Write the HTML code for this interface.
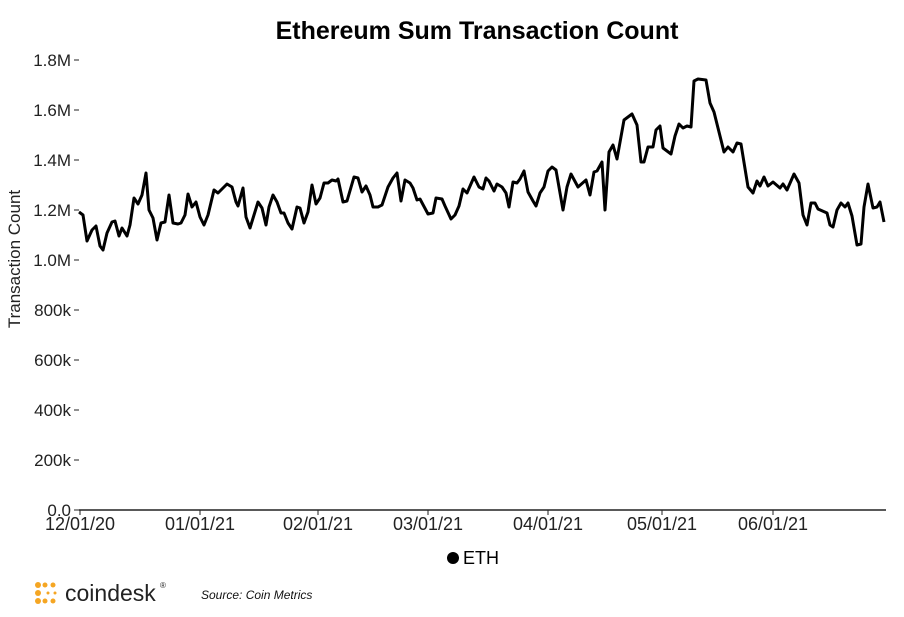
<!DOCTYPE html>
<html><head><meta charset="utf-8"><style>
html,body{margin:0;padding:0;background:#fff;width:904px;height:617px;overflow:hidden}
svg{display:block;font-family:"Liberation Sans",sans-serif}
</style></head><body>
<svg width="904" height="617" viewBox="0 0 904 617">
<text x="477" y="39" text-anchor="middle" font-size="25" font-weight="bold" fill="#000">Ethereum Sum Transaction Count</text>
<g font-size="17" fill="#222" text-anchor="end">
<text x="71" y="516">0.0</text>
<text x="71" y="466">200k</text>
<text x="71" y="416">400k</text>
<text x="71" y="366">600k</text>
<text x="71" y="316">800k</text>
<text x="71" y="266">1.0M</text>
<text x="71" y="216">1.2M</text>
<text x="71" y="166">1.4M</text>
<text x="71" y="116">1.6M</text>
<text x="71" y="66">1.8M</text>
</g>
<g stroke="#222" stroke-width="1">
<line x1="74" x2="79" y1="510" y2="510"/><line x1="74" x2="79" y1="460" y2="460"/><line x1="74" x2="79" y1="410" y2="410"/><line x1="74" x2="79" y1="360" y2="360"/><line x1="74" x2="79" y1="310" y2="310"/><line x1="74" x2="79" y1="260" y2="260"/><line x1="74" x2="79" y1="210" y2="210"/><line x1="74" x2="79" y1="160" y2="160"/><line x1="74" x2="79" y1="110" y2="110"/><line x1="74" x2="79" y1="60" y2="60"/>
<line x1="79" x2="886" y1="510" y2="510" stroke-width="1.5"/>
<line x1="80" x2="80" y1="510" y2="515"/><line x1="200" x2="200" y1="510" y2="515"/><line x1="318" x2="318" y1="510" y2="515"/><line x1="428" x2="428" y1="510" y2="515"/><line x1="548" x2="548" y1="510" y2="515"/><line x1="662" x2="662" y1="510" y2="515"/><line x1="773" x2="773" y1="510" y2="515"/>
</g>
<g font-size="18" fill="#222" text-anchor="middle">
<text x="80" y="530">12/01/20</text><text x="200" y="530">01/01/21</text><text x="318" y="530">02/01/21</text><text x="428" y="530">03/01/21</text><text x="548" y="530">04/01/21</text><text x="662" y="530">05/01/21</text><text x="773" y="530">06/01/21</text>
</g>
<text transform="translate(20,259) rotate(-90)" text-anchor="middle" font-size="17" fill="#222">Transaction Count</text>
<polyline fill="none" stroke="#000" stroke-width="3" stroke-linejoin="round" points="79,212 83,215 87,241 92,230 96,226 100,246 103,250 107,233 112,222 115,221 119,236 122,228 127,236 130,225 134,198 138,204 142,195 146,173 149,210 153,218 157,240 161,223 165,222 169,195 173,223 178,224 181,223 185,215 188,194 192,207 196,202 200,217 204,225 208,215 214,190 218,193 227,184 232,187 236,202 238,206 243,188 246,217 250,228 258,202 262,208 266,225 269,207 273,195 277,202 281,213 284,213 288,223 292,229 297,207 300,208 304,223 308,212 312,185 316,204 320,198 324,183 328,183 332,180 336,181 338,179 343,202 347,201 354,177 358,178 362,192 366,186 370,195 373,207 378,207 382,205 388,187 393,178 397,173 401,201 405,180 410,183 413,188 417,200 420,199 428,214 433,213 436,198 442,199 445,206 451,219 455,215 459,206 463,189 467,193 474,177 479,187 483,189 486,178 489,181 494,191 497,184 502,187 506,193 509,207 513,182 517,183 520,179 524,171 528,192 533,201 536,206 540,193 544,187 548,171 552,167 556,170 563,210 567,187 571,174 578,187 586,180 590,195 594,172 597,171 602,162 605,210 609,152 613,145 617,159 624,120 632,114 637,125 641,162 644,162 648,147 653,147 656,130 660,126 663,148 671,154 675,136 679,124 683,128 687,126 691,127 694,81 698,79 706,80 710,103 714,112 724,152 728,147 733,152 737,143 741,144 748,187 753,193 757,181 760,186 764,177 768,186 773,182 780,188 783,184 787,190 794,174 799,183 803,215 807,225 811,203 815,203 818,209 827,213 830,225 833,227 837,210 841,203 845,207 848,203 852,216 857,245 861,244 864,207 868,184 873,208 877,207 880,202 884,222"/>
<circle cx="453" cy="558" r="6" fill="#000"/>
<text x="463" y="564" font-size="18" fill="#000">ETH</text>
<g fill="#f5a623">
<circle cx="38" cy="585" r="3"/><circle cx="45" cy="585" r="2.5"/><circle cx="53" cy="585" r="2.5"/><circle cx="38" cy="593" r="3"/><circle cx="38" cy="601" r="3"/><circle cx="45" cy="601" r="2.5"/><circle cx="53" cy="601" r="2.5"/><circle cx="55" cy="593" r="1.5"/><circle cx="48" cy="593" r="1.5"/>
</g>
<text x="65" y="601" font-size="23" fill="#222">coindesk</text>
<text x="160" y="588" font-size="8" fill="#222">®</text>
<text x="201" y="599" font-size="12" font-style="italic" fill="#111">Source: Coin Metrics</text>
</svg>
</body></html>
